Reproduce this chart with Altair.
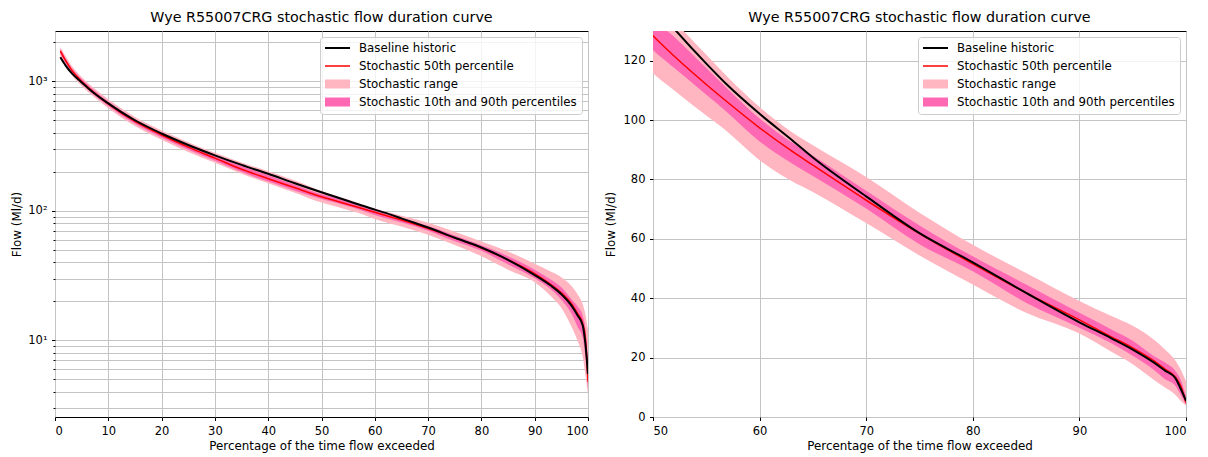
import altair as alt
import pandas as pd

# ---------------- data ----------------
pct = [1, 2, 3, 5, 7, 10, 15, 20, 25, 30, 35, 40, 45, 50, 52, 55, 57, 60, 63, 65,
       70, 75, 80, 85, 90, 93, 95, 97, 98, 99, 99.5, 100]
baseline = [1530, 1320, 1170, 980, 830, 675, 500, 395, 322, 268, 226, 193, 163, 139,
            130.7, 119, 111.7, 102.1, 93.4, 87.4, 74.3, 61.9, 52.1, 41.8, 31.9, 26.5, 22.7,
            18.3, 15.7, 13.1, 9.5, 5.5]
p50 = [1710, 1440, 1240, 1000, 840, 670, 490, 385, 310, 255, 209, 177, 150.5, 128.4,
       121.5, 112, 106, 97.4, 89.6, 84.8, 73, 61.8, 51.6, 41.8, 32.7, 27, 23.3,
       18.9, 16.2, 13.5, 10.5, 4.8]
p10 = [1640, 1380, 1190, 960, 805, 645, 470, 368, 296, 243, 199, 168, 143, 123.5,
       117.5, 108.5, 102.5, 92.8, 85.5, 81.2, 70.2, 58.2, 49.1, 38.5, 30.1, 24.8, 20.6,
       15.8, 12.8, 10.5, 7.5, 4.2]
p90 = [1780, 1500, 1290, 1040, 875, 697, 510, 401, 323, 266, 222, 188, 159, 134,
       128, 117.5, 110.5, 100.5, 92.5, 88, 76.2, 64.5, 54.1, 44.6, 35.1, 29.5, 25.7,
       20.5, 18.4, 15.5, 12.5, 7]
vmin = [1520, 1310, 1140, 920, 775, 620, 452, 354, 285, 235, 193, 163, 138, 115.8,
        110, 101.5, 96, 86.5, 79.5, 75.8, 65.3, 54.4, 44.6, 35.1, 28.1, 22, 17.8, 12.5,
        10, 7.5, 5.5, 3.8]
vmax = [1840, 1560, 1340, 1080, 905, 725, 530, 417, 338, 280, 236, 202, 171, 142,
        133.5, 122, 114.5, 104.4, 96, 91.5, 80.8, 68.8, 58, 48.5, 39.1, 34, 30.7, 26,
        22.8, 19, 16, 12]

series_names = ["Baseline historic", "Stochastic 50th percentile",
                "Stochastic range", "Stochastic 10th and 90th percentiles"]
series_colors = ["#000000", "#ff0000", "#ffb6c1", "#ff69b4"]

log_grid = [3, 4, 5, 6, 7, 8, 9, 10, 20, 30, 40, 50, 60, 70, 80, 90,
            100, 200, 300, 400, 500, 600, 700, 800, 900, 1000, 2000]
log_labels = {10: "10¹", 100: "10²", 1000: "10³"}

TITLE = "Wye R55007CRG stochastic flow duration curve"
XTITLE = "Percentage of the time flow exceeded"
YTITLE = "Flow (Ml/d)"
FONT = "DejaVu Sans"

df = pd.DataFrame({"pct": pct, "baseline": baseline, "p50": p50, "p10": p10,
                   "p90": p90, "vmin": vmin, "vmax": vmax})

shape_expr = ("datum.value == 'Baseline historic' ? 'M-1,-0.08H1V0.08H-1Z' : "
              "datum.value == 'Stochastic 50th percentile' ? 'M-1,-0.06H1V0.06H-1Z' : "
              "'M-1,-0.36H1V0.36H-1Z'")
legend = alt.Legend(
    title=None, orient="top-right", offset=6,
    fillColor="rgba(255,255,255,0.8)", strokeColor="#cccccc", cornerRadius=3,
    padding=5, labelFont=FONT, labelFontSize=11.8, labelColor="#000000",
    labelLimit=400, rowPadding=5, clipHeight=12, symbolSize=625, labelOffset=9,
    symbolType={"expr": shape_expr}, symbolStrokeWidth=0, symbolOpacity=1,
)
color_scale = alt.Scale(domain=series_names, range=series_colors)
INTERP = "monotone"


def series_color(with_legend=False):
    if with_legend:
        return alt.Color("series:N", scale=color_scale, legend=legend)
    return alt.Color("series:N")


def panel(xscale, xvals, yscale, yaxis):
    x = alt.X("pct:Q", scale=xscale,
              axis=alt.Axis(values=xvals, title=XTITLE, format="d"))

    def base(name):
        return alt.Chart(df).transform_calculate(series=f"'{name}'")

    rng = base("Stochastic range").mark_area(clip=True, interpolate=INTERP).encode(
        x=x, y=alt.Y("vmin:Q", scale=yscale, axis=yaxis), y2="vmax:Q",
        color=series_color(True))
    dark = base("Stochastic 10th and 90th percentiles").mark_area(
        clip=True, interpolate=INTERP).encode(
        x=x, y="p10:Q", y2="p90:Q", color=series_color())
    # zero-height areas: they only give the two line entries to the legend
    key_b = base("Baseline historic").mark_area(clip=True).encode(
        x=x, y="baseline:Q", y2="baseline:Q", color=series_color())
    key_r = base("Stochastic 50th percentile").mark_area(clip=True).encode(
        x=x, y="p50:Q", y2="p50:Q", color=series_color())
    red = alt.Chart(df).mark_line(clip=True, strokeWidth=1.5, color="#ff0000",
                                  interpolate=INTERP).encode(x=x, y="p50:Q")
    black = alt.Chart(df).mark_line(clip=True, strokeWidth=2, color="#000000",
                                    interpolate=INTERP).encode(x=x, y="baseline:Q")
    return alt.layer(rng, dark, key_b, key_r, red, black).properties(
        width=533, height=386,
        title=alt.TitleParams(TITLE, font=FONT, fontSize=14.3, fontWeight="normal",
                              color="#000000", offset=6),
    )


label_expr = " : ".join(f"datum.value == {k} ? '{v}'" for k, v in log_labels.items()) + " : ''"
left = panel(
    alt.Scale(domain=[0, 100], nice=False),
    list(range(0, 101, 10)),
    alt.Scale(type="log", domain=[2.56, 2443], nice=False),
    alt.Axis(values=log_grid, title=YTITLE, labelExpr=label_expr,
             tickSize={"expr": "indexof([10, 100, 1000], datum.value) >= 0 ? 3.5 : 2"},
             titlePadding=5),
)
right = panel(
    alt.Scale(domain=[50, 100], nice=False),
    list(range(50, 101, 10)),
    alt.Scale(domain=[0, 130], nice=False),
    alt.Axis(values=list(range(0, 121, 20)), title=YTITLE, titlePadding=7),
)

chart = alt.hconcat(left, right, spacing=65, bounds="flush").resolve_scale(
    color="independent").resolve_legend(color="independent").properties(
    padding={"left": 10, "top": 10, "right": 5, "bottom": 5}
).configure_view(stroke="#000000", strokeWidth=1).configure_axis(
    labelFont=FONT, titleFont=FONT, labelFontSize=11.5, titleFontSize=11.9,
    labelColor="#000000", titleColor="#000000", titleFontWeight="normal",
    tickColor="#000000", tickSize=3.5, labelPadding=4.5, domain=False,
    grid=True, gridColor="#c4c4c4", gridWidth=1, zindex=1,
).configure_axisX(titlePadding=3, labelPadding=5)

chart.save("out.html", embed_options={"renderer": "svg", "actions": False})
